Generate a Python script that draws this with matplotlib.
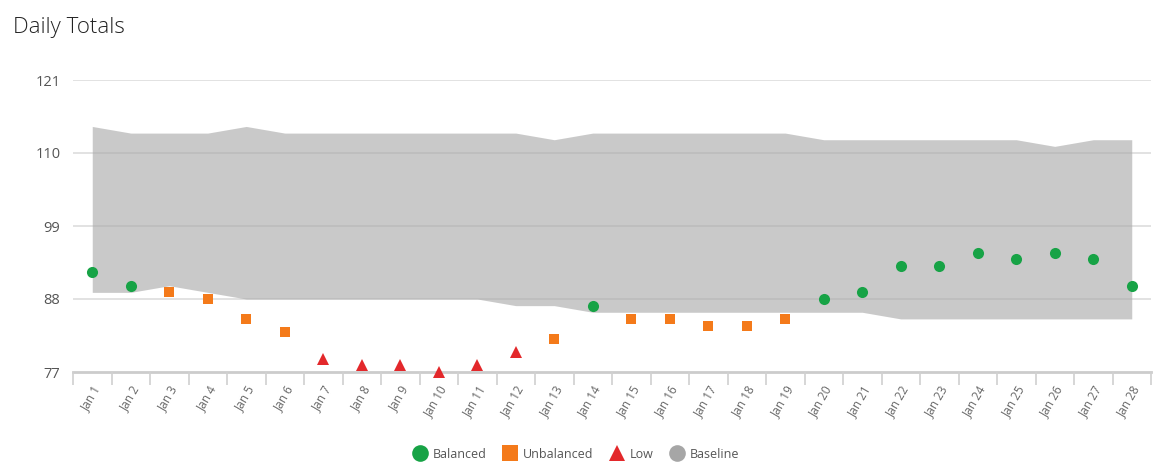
import matplotlib
matplotlib.use("Agg")
import matplotlib.pyplot as plt
from matplotlib.lines import Line2D
import numpy as np

plt.rcParams['font.family'] = ['Open Sans', 'DejaVu Sans']

# -----------------------
# Data
# -----------------------
days = [f"Jan {d}" for d in range(1, 29)]
totals = [92, 90, 89, 88, 85, 83, 79, 78, 78, 77, 78, 80, 82, 87,
          85, 85, 84, 84, 85, 88, 89, 93, 93, 95, 94, 95, 94, 90]
status = ["B", "B", "U", "U", "U", "U", "L", "L", "L", "L", "L", "L", "U", "B",
          "U", "U", "U", "U", "U", "B", "B", "B", "B", "B", "B", "B", "B", "B"]
base_low = [89, 89, 90, 89, 88, 88, 88, 88, 88, 88, 88, 87, 87, 86,
            86, 86, 86, 86, 86, 86, 86, 85, 85, 85, 85, 85, 85, 85]
base_high = [114, 113, 113, 113, 114, 113, 113, 113, 113, 113, 113, 113, 112, 113,
             113, 113, 113, 113, 113, 112, 112, 112, 112, 112, 112, 111, 112, 112]
y_ticks = [77, 88, 99, 110, 121]

styles = {
    "B": ("Balanced", "o", "#17a346", 8),
    "U": ("Unbalanced", "s", "#f47a1a", 7.5),
    "L": ("Low", "^", "#e3282b", 8),
}
base_color = "#a6a6a6"

# -----------------------
# Plot
# -----------------------
x = np.arange(len(days))
totals = np.array(totals)
status = np.array(status)

fig = plt.figure(figsize=(11.56, 4.70), dpi=100)
ax = fig.add_axes([73 / 1156, 1 - 372 / 470, (1151 - 73) / 1156, (372 - 80) / 470])

for yt in y_ticks[1:]:
    ax.axhline(yt, color="#dddddd", linewidth=1.2, zorder=0)

ax.fill_between(x, base_low, base_high, color=base_color, alpha=0.6,
                linewidth=0, zorder=1)

for key, (label, marker, color, size) in styles.items():
    m = status == key
    ax.plot(x[m], totals[m], linestyle="none", marker=marker, color=color,
            markersize=size, markeredgewidth=0, zorder=3, clip_on=False)

# -----------------------
# Formatting
# -----------------------
ax.set_xlim(-0.5, len(days) - 0.5)
ax.set_ylim(y_ticks[0], y_ticks[-1])
ax.set_yticks(y_ticks)
ax.set_yticklabels([str(v) for v in y_ticks], fontsize=10.5, color="#555555")
ax.tick_params(axis="y", length=0, pad=9)

ax.set_xticks(x)
ax.set_xticklabels(days, rotation=60, ha="right", rotation_mode="anchor",
                   fontsize=8.5, color="#666666")
ax.set_xticks(np.arange(len(days) + 1) - 0.5, minor=True)
ax.tick_params(axis="x", which="major", length=0, pad=8)
ax.tick_params(axis="x", which="minor", length=9, width=1.2, color="#d0d0d0")

for side in ["top", "right", "left"]:
    ax.spines[side].set_visible(False)
ax.spines["bottom"].set_color("#cccccc")
ax.spines["bottom"].set_linewidth(2)
ax.spines["bottom"].set_zorder(0.5)

fig.text(13 / 1156, 1 - 28 / 470, "Daily Totals", fontsize=16, color="#222222",
         va="center", ha="left", fontweight="light")

handles = [Line2D([], [], linestyle="none", marker=mk, color=c, markersize=12,
                  markeredgewidth=0, label=lb)
           for lb, mk, c, s in styles.values()]
handles.append(Line2D([], [], linestyle="none", marker="o", color=base_color,
                      markersize=12, markeredgewidth=0, label="Baseline"))
fig.legend(handles=handles, loc="center", bbox_to_anchor=(575 / 1156, 1 - 454 / 470),
           ncol=4, frameon=False, fontsize=9, labelcolor="#555555",
           handletextpad=0.3, columnspacing=1.1, handlelength=1.5)

fig.savefig("out.png", dpi=100)
